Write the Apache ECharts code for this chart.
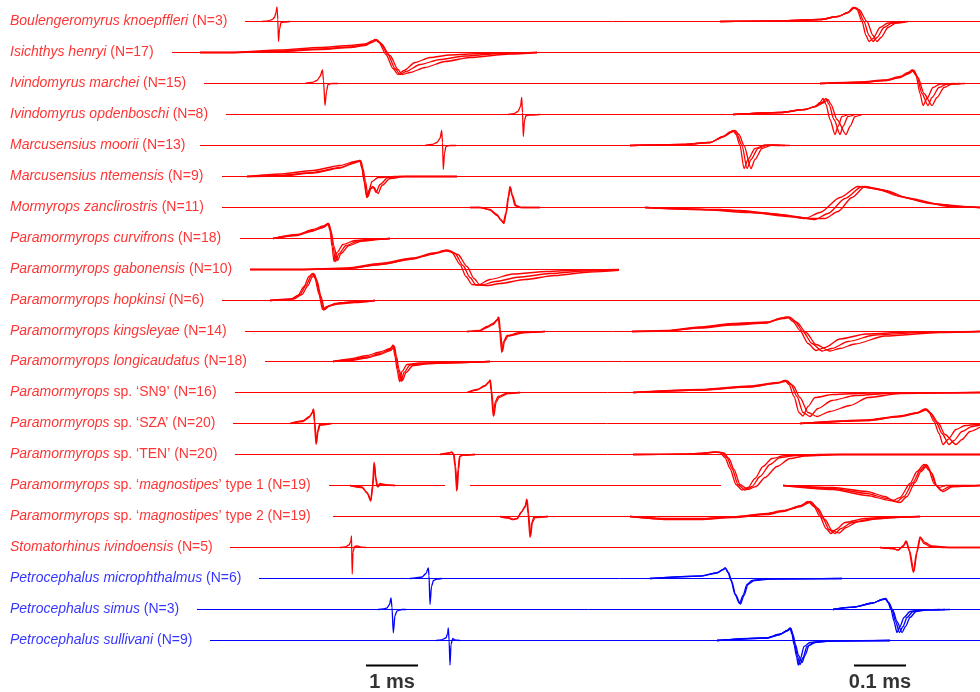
<!DOCTYPE html>
<html><head><meta charset="utf-8">
<script src="https://cdn.jsdelivr.net/npm/echarts@6/dist/echarts.min.js"></script>
<style>html,body{margin:0;padding:0;background:#fff}#c{width:980px;height:692px}</style>
</head><body><div id="c"></div>
<script>
// Species labels (text between * is italic) and sample sizes
const species = [
  "*Boulengeromyrus knoepffleri*", "*Isichthys henryi*", "*Ivindomyrus marchei*", "*Ivindomyrus opdenboschi*",
  "*Marcusensius moorii*", "*Marcusensius ntemensis*", "*Mormyrops zanclirostris*", "*Paramormyrops curvifrons*",
  "*Paramormyrops gabonensis*", "*Paramormyrops hopkinsi*", "*Paramormyrops kingsleyae*", "*Paramormyrops longicaudatus*",
  "*Paramormyrops* sp. ‘SN9’", "*Paramormyrops* sp. ‘SZA’", "*Paramormyrops* sp. ‘TEN’",
  "*Paramormyrops* sp. ‘*magnostipes*’ type 1", "*Paramormyrops* sp. ‘*magnostipes*’ type 2",
  "*Stomatorhinus ivindoensis*", "*Petrocephalus microphthalmus*", "*Petrocephalus simus*", "*Petrocephalus sullivani*"
];
const nCounts = [3,17,15,8,13,9,11,18,10,6,14,18,16,20,20,19,19,5,6,3,9];
const family = ["m","m","m","m","m","m","m","m","m","m","m","m","m","m","m","m","m","m","p","p","p"];

// Recording extent (time units) of the flat trace for each row
const baselineSegments = [
  [[245,980]],[[172,980]],[[204,980]],[[226,980]],[[200,980]],[[222,980]],[[222,980]],[[240,980]],
  [[250,619]],[[222,980]],[[245,980]],[[265,980]],[[235,980]],[[233,980]],[[235,980]],
  [[329,445],[470,721],[783,980]],[[333,980]],[[230,980]],[[259,980]],[[197,980]],[[210,980]]
];

// EOD traces: [time, amplitude]  (left group: 1 ms scale, right group: 0.1 ms scale)
const eod00 = [
  [[262,0],[268,0.7],[272,1.8],[274.5,4],[276,9],[277,14.5],[277.8,2],[278.5,-20],[279.5,-8],[281,-1],[284,-0.5],[290,0]],
  [[720,0],[780,0.5],[820,2],[838,5],[848,9],[853,14],[857,12],[862,0],[866,-14],[869,-20],[873,-17],[880,-6],[888,-1.5],[900,0]],
  [[720,0],[780,0.5],[820,2],[838,5],[848,9],[854,14],[858,12],[864,0],[869,-14],[873,-20],[877,-16],[884,-6],[892,-1.5],[905,0]],
  [[720,0],[780,0.5],[820,2],[838,5],[848,9],[855,14],[859,12],[867,0],[873,-14],[877,-20],[881,-16],[888,-6],[896,-1.5],[908,0]]
];
const eod01 = [
  [[200,0],[230,0],[280,1.5],[320,3.5],[350,5.5],[365,7.5],[372,11],[375,13],[379,10],[386,-2],[393,-16],[398,-22],[404,-18],[415,-10],[430,-5],[450,-2.5],[480,-1],[537,0]],
  [[200,0],[230,0],[280,2.5],[320,5],[350,7],[365,8.5],[372,11.5],[376,13],[380,10],[388,-2],[395,-16],[400,-22],[406,-19],[420,-12],[440,-7],[465,-3.5],[500,-1],[537,0]],
  [[200,0],[230,0],[280,1],[320,3],[350,5],[365,7],[373,10.5],[377,12.5],[381,9],[390,-3],[398,-17],[402,-22],[410,-20],[425,-15],[445,-9],[470,-5],[510,-1.5],[537,0]]
];
const eod02 = [
  [[305,0],[312,1],[317,3],[320,7],[322.5,13.5],[323.5,3],[325,-22],[326.5,-8],[328,-1],[332,0],[338,0]],
  [[820,0],[860,1],[885,3],[900,6],[908,10],[912,13.5],[916,8],[920,-10],[923,-22],[927,-15],[933,-4],[940,-0.5],[955,0]],
  [[820,0],[860,1.5],[885,3.5],[900,7],[908,11],[913,13.5],[917,7],[922,-10],[928,-22],[932,-14],[939,-4],[947,-0.5],[960,0]],
  [[820,0],[860,1],[885,3],[900,6],[909,10],[914,13],[918,6],[924,-10],[932,-22],[937,-14],[944,-4],[952,-0.5],[965,0]]
];
const eod03 = [
  [[508,0],[514,0.8],[518,3],[520.5,8],[521.7,17],[522.5,2],[523.3,-22],[524.5,-6],[526,-1],[530,-0.5],[540,0]],
  [[733,0],[780,2],[805,5],[815,8],[820,12],[823,16],[826,10],[830,-5],[835,-20],[838,-12],[842,-2],[848,0]],
  [[733,0],[780,2],[805,5],[815,8],[822,12],[826,16],[829,10],[834,-5],[840,-20],[843,-12],[848,-2],[855,0]],
  [[733,0],[780,2],[805,5],[816,8],[824,12],[828,15],[831,10],[837,-5],[846,-20],[850,-12],[855,-2],[862,0]]
];
const eod04 = [
  [[425,0],[432,1],[437,3],[440,7],[441.7,15],[442.5,3],[443.3,-24],[444.5,-8],[446,-1],[450,0],[456,0]],
  [[630,0],[683,1],[710,3],[723,9],[730,13.5],[733,15],[736,11],[740,0],[744,-23],[748,-14],[755,-3],[765,0.5],[780,0]],
  [[630,0],[683,1],[710,3],[724,9],[731,13.5],[734,15],[737,11],[742,0],[747,-23],[751,-14],[758,-3],[768,0.5],[785,0]],
  [[630,0],[683,1],[710,3],[724,9],[732,13.5],[735,15],[739,11],[744,0],[751,-23],[755,-14],[762,-3],[772,0.5],[790,0]]
];
const eod05 = [
  [[247,0],[280,1],[313,4],[340,9],[355,14],[360,16],[362,8],[364,-5],[366.7,-21],[369,-14],[372,-5],[378,-1],[395,0],[457,0]],
  [[247,0],[280,2.5],[313,6],[340,11],[355,15],[360,16],[362,8],[364.5,-5],[367,-21],[370,-12],[373,-10],[376,-16],[380,-8],[388,-1],[400,0],[457,0]],
  [[247,0],[280,0.5],[313,3.5],[340,8.5],[356,14],[361,15.5],[363,8],[365.5,-5],[368,-20],[371,-12],[374,-11],[378,-17],[382,-9],[390,-2],[405,0],[457,0]]
];
const eod06 = [
  [[470,0],[480,0],[490,-2],[497,-7],[501,-12],[503.3,-15],[506,-5],[508,10],[510,21],[512,12],[515,2],[520,0],[540,0]],
  [[470,0],[480,0],[490,-2.5],[497,-8],[501,-13],[504,-16],[506.5,-5],[508.5,10],[510.5,20],[512.5,12],[516,2],[522,0],[540,0]],
  [[645,0],[700,-2],[750,-5],[790,-9],[805,-11],[820,-5],[840,10],[858,21],[875,19],[900,11],[925,5],[950,1],[980,0]],
  [[645,0],[720,-2],[770,-6],[800,-10],[815,-12],[828,-6],[845,9],[862,21],[880,18],[905,10],[930,4],[960,1],[980,0]],
  [[645,0],[740,-3],[780,-7],[810,-11],[825,-11],[838,-4],[852,10],[865,21],[885,17],[910,9],[940,3],[970,0.5],[980,0]]
];
const eod07 = [
  [[273,0],[297,3],[313,7.5],[323,11],[328,15],[330,8],[332,-8],[334,-23],[337,-14],[343,-6],[355,-2],[375,-0.5],[390,0]],
  [[273,0],[297,4],[313,9],[323,12.5],[328.5,15],[330.5,8],[333,-8],[335.5,-23],[339,-15],[346,-7],[358,-2.5],[380,-0.5],[390,0]],
  [[273,0],[297,3.5],[313,8],[324,11.5],[329,14.5],[331,8],[334,-8],[337.5,-22],[341,-15],[349,-7],[362,-2.5],[385,-0.5],[390,0]]
];
const eod08 = [
  [[250,0],[300,0],[347,1],[380,5],[413,10.5],[433,15.5],[445,19],[452,17],[460,5],[466,-7],[472,-15],[478,-15.5],[490,-10],[513,-4.5],[547,-2],[580,-0.5],[619,0]],
  [[250,0],[300,0],[347,1.5],[380,6],[413,11.5],[433,16.5],[447,19.5],[455,16],[463,4],[470,-8],[476,-15.5],[482,-15.5],[495,-12],[520,-7.5],[550,-4],[585,-1.5],[619,-0.3]],
  [[250,0],[300,0],[347,0.8],[380,5],[413,11],[435,16],[449,19],[458,15],[467,3],[474,-9],[480,-15.5],[488,-16],[500,-14],[525,-10],[555,-6],[590,-2.5],[619,-0.8]]
];
const eod09 = [
  [[270,0],[290,1],[298,5],[304,14],[309,24],[312.5,27],[315,22],[319,6],[322.5,-9],[327,-6],[335,-3],[350,-1.5],[375,0]],
  [[270,0],[292,1.5],[300,6],[306,15],[311,24],[313.5,27],[316,21],[320,5],[323.5,-9.5],[328,-6],[338,-3.5],[355,-2],[375,0]],
  [[270,0],[294,1.5],[302,6],[308,15],[312,23],[314.5,26],[317,20],[321,4],[324.5,-9],[330,-5],[340,-2.5],[360,-1],[375,0]]
];
const eod10 = [
  [[467,0],[480,0.7],[487,4],[493,7],[497,11],[498.3,14.7],[499.5,2],[501.7,-21],[503.5,-10],[507,-4],[520,-1],[545,0]],
  [[467,0],[480,1.2],[487,5],[493,8],[497.5,12],[499,14],[500.3,2],[502.5,-20],[504.5,-10],[508,-4.5],[525,-1],[545,0]],
  [[632,0],[667,0.7],[700,3.5],[733,6.5],[767,8.5],[780,13],[787,14.7],[793,10],[800,1],[808,-12],[816,-19],[825,-16],[840,-7.5],[866,-2.5],[910,-0.5],[980,0]],
  [[632,0],[667,1],[700,4.5],[733,8],[767,9.5],[782,13.5],[789,14.5],[795,10],[803,0],[812,-12],[822,-19.5],[832,-17],[848,-10],[875,-3.5],[925,-0.8],[980,0]],
  [[632,0],[667,0.5],[700,4],[733,7.5],[767,9],[783,13],[790,14],[797,9],[806,-1],[816,-13],[830,-19.5],[840,-17],[855,-12.5],[885,-4.5],[940,-1],[980,0]]
];
const eod11 = [
  [[333,0],[350,1.5],[367,4.5],[380,8],[390,12],[393,16.5],[395,5],[397,-8],[399.5,-20],[402,-10],[407,-3],[420,-1.5],[450,-1],[490,0]],
  [[333,0],[350,2.5],[367,6],[380,9.5],[390,13],[393.8,16],[395.8,5],[398,-8],[401,-20],[404,-11],[410,-3.5],[425,-2],[460,-1],[490,0]],
  [[333,0],[350,1],[367,3.5],[380,7],[390.5,11],[394.5,15],[396.5,5],[399,-8],[402.5,-19],[406,-11],[413,-4],[430,-2],[470,-0.8],[490,0]]
];
const eod12 = [
  [[467,0],[477,2.5],[485,6.5],[488.5,10],[490,12.7],[491,2],[493.3,-24],[495,-10],[498,-4],[507,-0.7],[520,0]],
  [[467,0],[477,3],[485,7],[489,10.5],[490.5,12.2],[491.6,2],[494,-23],[496,-10],[499,-5],[508,-1],[520,0]],
  [[633,0],[700,2.5],[750,5.5],[777,9.5],[785,12],[789,8],[794,-4],[799,-20],[803,-23.5],[808,-14],[815,-5],[833,-2],[870,-0.5],[980,0]],
  [[633,0],[700,3],[750,6.5],[778,10],[786,12],[791,8],[797,-4],[803,-20],[810,-24],[818,-16],[832,-8],[855,-3],[895,-0.5],[980,0]],
  [[633,0],[700,2.5],[750,6],[779,9.5],[787,11.5],[793,7],[800,-5],[808,-20],[817,-24],[830,-19],[850,-13],[868,-5],[900,-1],[980,0]]
];
const eod13 = [
  [[290,0],[303,2],[309,6],[312,10],[313.3,14.7],[314.3,2],[316,-21],[317.5,-8],[319.5,-1],[330,0]],
  [[290,0],[303,2.8],[309.5,7],[312.5,11],[313.8,14],[314.8,2],[316.5,-20],[318,-8],[320,-1.5],[332,0]],
  [[800,0],[867,3],[900,7],[917,10.5],[925,14.7],[929,11],[934,2],[939,-10],[943,-21],[948,-16],[956,-6],[965,-2],[980,-0.5]],
  [[800,0],[867,3.5],[900,7.5],[918,11],[926,14.5],[930,11],[936,2],[942,-10],[949,-21],[954,-17],[962,-8],[972,-3],[980,-1.5]],
  [[800,0],[867,3],[900,7],[918,10.5],[927,14],[931,10],[938,1],[945,-11],[956,-21],[962,-16],[970,-8],[980,-3.5]]
];
const eod14 = [
  [[440,0],[448,1.5],[451.7,2.5],[453.5,0],[455,-12],[456.7,-36.7],[458,-15],[459.5,-2],[462,-0.5],[475,0]],
  [[440,0],[448,1.2],[452,2.2],[454,0],[455.6,-12],[457.3,-35],[458.6,-15],[460,-2],[463,-0.5],[475,0]],
  [[633,0],[683,0.3],[700,1],[713,2.3],[720,2],[725,-3],[730,-14],[736,-30],[742,-35.5],[748,-33],[755,-24],[763,-12],[772,-4],[785,-1],[820,0],[980,0]],
  [[633,0],[683,0.3],[700,1],[715,2.5],[722,2],[727,-3],[732,-14],[738,-30],[745,-35.5],[752,-32],[760,-22],[770,-10],[780,-3],[795,-1],[830,0],[980,0]],
  [[633,0],[683,0.3],[700,1],[717,2.3],[724,1.5],[729,-4],[734,-15],[740,-30],[748,-35],[756,-32],[765,-23],[777,-12],[790,-4],[805,-1.5],[840,0],[980,0]]
];
const eod15 = [
  [[350,0],[362,-1.5],[367,-7],[370.7,-15.7],[372.5,0],[374,23.3],[375.5,8],[377,-1],[380,2],[385,0.5],[395,0]],
  [[350,0],[362,-2],[367.5,-8],[371,-14.5],[373,0],[374.5,22],[376,7],[377.8,-1.5],[381,1.5],[387,0.5],[395,0]],
  [[783,0],[833,-2],[867,-6],[885,-11],[893,-15],[900,-12],[910,2],[917,14],[924,21],[929,15],[934,2],[939,-2],[946,0],[980,0]],
  [[783,0],[833,-3],[867,-8],[887,-13],[897,-16],[904,-11],[913,3],[920,15],[926,21],[931,13],[936,0],[941,-5],[950,-1],[980,0]],
  [[783,0],[833,-4],[867,-10],[890,-15],[900,-17],[907,-11],[915,3],[921,14],[927,20],[932,12],[937,-1],[943,-6],[953,-1],[980,0]]
];
const eod16 = [
  [[500,0],[508,-1],[513,-2.7],[517,-2],[521,4],[525,10],[526.7,17.3],[528,3],[530,-21],[531.8,-6],[534,-0.5],[548,0]],
  [[500,0],[508,-1.5],[513,-3.2],[517.5,-2],[521.5,4.5],[525.5,10],[527.2,16.5],[528.6,3],[530.6,-20],[532.4,-6],[535,-1],[548,0]],
  [[630,0],[667,-2.5],[700,-2.5],[733,-0.5],[767,2.5],[783,5.5],[800,10.5],[808,15],[814,10],[820,0],[826,-12],[831,-17],[836,-13],[845,-6],[865,-2],[890,-0.5],[920,0]],
  [[630,0],[667,-3],[700,-3],[733,-1],[767,2],[783,5],[801,10],[810,15],[816,9],[823,-2],[829,-13],[835,-17],[841,-12],[852,-6],[872,-2.5],[900,-0.5],[920,0]],
  [[630,0],[667,-2],[700,-2],[733,-0.3],[767,3],[783,6],[802,11],[811,14.5],[818,8],[825,-3],[832,-14],[839,-16.5],[846,-11],[858,-5],[880,-2],[905,-0.5],[920,0]]
];
const eod17 = [
  [[340,0],[345,0.5],[349,2.5],[350.8,6],[351.5,11.7],[352.2,-26.7],[353,-5],[354.5,1],[357,1.5],[362,0.3],[366,0]],
  [[880,0],[893,-1],[898,-2.7],[903,1.5],[906,6.7],[909,-3],[913.3,-25],[916.5,-5],[920,10.7],[924,4],[930,1],[945,0],[980,0]],
  [[880,0],[893,-1],[898,-2.5],[903.5,1.5],[906.5,6],[909.5,-3],[914,-24],[917,-5],[920.5,10],[925,5],[932,1.5],[950,0],[980,0]]
];
const eod18 = [
  [[410,0],[415,0.5],[422,1.5],[426,5],[428.3,10.7],[429,3],[430,-26],[431.5,-8],[433.5,-2],[437,-0.5],[442,0]],
  [[650,0],[700,2.3],[717,5.5],[723,9],[725,10.7],[728,6],[731,-2],[735,-16],[739.5,-25],[743,-17],[747,-6],[752,-2],[765,-0.5],[842,0]],
  [[650,0],[700,2.5],[717,5.8],[723.5,9],[725.5,10.5],[728.5,6],[731.5,-2],[735.5,-16],[740.5,-25.5],[744,-17],[748,-6],[754,-2],[770,-0.5],[842,0]]
];
const eod19 = [
  [[378,0],[383,0.5],[387,1.5],[389.5,5],[391,11.6],[392,2],[393.3,-23.3],[395,-6],[397,-1.5],[402,0],[406,0]],
  [[833,0],[853,2.3],[873,6.5],[882,10],[885,11],[888,7],[891,0],[894,-12],[897,-23],[900,-17],[904,-8],[910,-2],[920,-0.3],[940,0]],
  [[833,0],[853,2.3],[873,6.5],[882,10],[885.5,11],[888.5,7],[892,0],[895.5,-12],[899.5,-23],[903,-17],[907,-8],[913,-2],[925,-0.3],[945,0]],
  [[833,0],[853,2.3],[873,6.5],[882.5,10],[886,10.5],[889,6.5],[893,-1],[897,-12],[902,-23],[905.5,-17],[910,-8],[916,-2],[928,-0.3],[950,0]]
];
const eod20 = [
  [[436,0],[441,0.5],[446,2.5],[447.6,7],[448.3,12.6],[449.1,0],[450,-24.7],[451,-4],[452.7,2],[455,0.5],[460,0]],
  [[717,0],[767,2.5],[780,6],[787,10],[790,12.6],[792,6],[794,-4],[796.5,-16],[798.3,-24.7],[800.5,-18],[804,-6],[810,-2],[825,-0.5],[890,0]],
  [[717,0],[767,2.8],[780,6.5],[787.5,10],[790.5,12.3],[792.5,6],[794.8,-4],[797.5,-16],[800,-24],[803,-17],[807,-6],[814,-2],[830,-0.5],[890,0]],
  [[717,0],[767,2.3],[780,6],[788,10],[791,12],[793,6],[795.5,-4],[798.5,-15],[802,-22],[805,-15],[809,-5],[816,-1.5],[835,-0.3],[890,0]]
];
const eodTraces = [eod00,eod01,eod02,eod03,eod04,eod05,eod06,eod07,eod08,eod09,eod10,
  eod11,eod12,eod13,eod14,eod15,eod16,eod17,eod18,eod19,eod20];

// Scale bars: [label, start, length]
const scaleBars = [["1 ms", 366, 52], ["0.1 ms", 854, 52]];

// ---------- layout / styling ----------
const ROW0 = 21, STEP = 30.95, BAR_Y = 665.5, BAR_TEXT_Y = 682;
const COLORS = { m: "#ff0000", p: "#0000ff" };
const FONT = "'Liberation Sans', Arial, Helvetica, sans-serif";

function rowY(r) { return Math.round(ROW0 + r * STEP) + 0.5; }
function richLabel(r) {
  const parts = species[r].split("*");
  let s = "";
  parts.forEach((t, k) => { if (t.length) s += "{" + (k % 2 ? "i" : "n") + "|" + t + "}"; });
  return s + "{n| (N=" + nCounts[r] + ")}";
}

const series = [];
for (let r = 0; r < species.length; r++) {
  const col = COLORS[family[r]];
  const y0 = rowY(r);
  baselineSegments[r].forEach(seg => {
    series.push({ type: "line", data: [[seg[0], y0], [seg[1], y0]], symbol: "none", silent: true,
      lineStyle: { color: col, width: 1 }, z: 2 });
  });
  eodTraces[r].forEach(tr => {
    series.push({ type: "line", data: tr.map(p => [p[0], y0 - p[1]]), symbol: "none", silent: true,
      smooth: 0.25, smoothMonotone: "x", lineStyle: { color: col, width: 1.3 }, z: 3 });
  });
}
["m", "p"].forEach(f => {
  const idx = species.map((_, i) => i).filter(i => family[i] === f);
  series.push({
    type: "scatter", silent: true, symbolSize: 0, z: 5,
    data: idx.map(i => ({ value: [8, rowY(i) - 0.5], lbl: richLabel(i) })),
    label: {
      show: true, position: "right", distance: 2,
      formatter: p => p.data.lbl,
      rich: {
        i: { fontStyle: "italic", fontSize: 14, fontFamily: FONT, color: COLORS[f] },
        n: { fontStyle: "normal", fontSize: 14, fontFamily: FONT, color: COLORS[f] }
      }
    }
  });
});
scaleBars.forEach(b => {
  series.push({ type: "line", data: [[b[1], BAR_Y], [b[1] + b[2], BAR_Y]], symbol: "none", silent: true,
    lineStyle: { color: "#000", width: 2.2 }, z: 4 });
});
series.push({
  type: "scatter", silent: true, symbolSize: 0, z: 5,
  data: scaleBars.map(b => ({ value: [b[1] + b[2] / 2, BAR_TEXT_Y], txt: b[0] })),
  label: { show: true, position: "inside", formatter: p => p.data.txt, color: "#000",
    fontWeight: "bold", fontSize: 20, fontFamily: FONT }
});

const chart = echarts.init(document.getElementById("c"), null, { renderer: "canvas" });
chart.setOption({
  animation: false,
  backgroundColor: "#fff",
  grid: { left: 0, right: 0, top: 0, bottom: 0 },
  xAxis: { type: "value", min: 0, max: 980, show: false },
  yAxis: { type: "value", min: 0, max: 692, inverse: true, show: false },
  series: series
});
</script></body></html>
